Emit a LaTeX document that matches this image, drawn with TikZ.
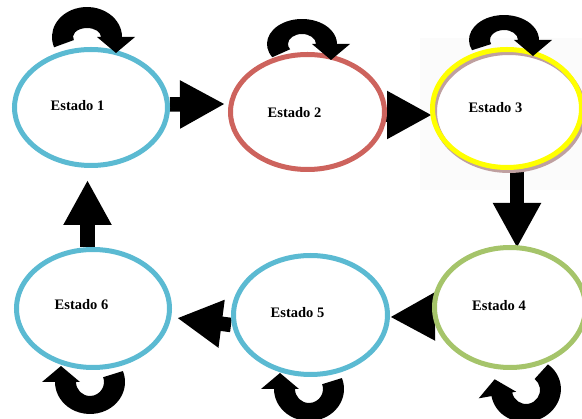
\documentclass[tikz,border=0pt]{standalone}
\usepackage{fontspec}
\setmainfont{Liberation Serif}
\usetikzlibrary{arrows.meta, shapes, positioning, calc}

\definecolor{azul}{HTML}{5BBAD2}
\definecolor{rojo}{HTML}{CD635D}
\definecolor{amarillo}{HTML}{FFFF00}
\definecolor{verde}{HTML}{A5C46A}
\definecolor{sombra}{HTML}{BFA0A0}

\pgfdeclarelayer{background}
\pgfsetlayers{background,main}

\tikzset{
  estado/.style={ellipse, line width=5pt, fill=white, inner sep=0pt},
  etiq/.style={font=\bfseries\fontsize{14.5}{17}\selectfont},
  bigarrow/.style={line width=14.5pt, -{Triangle[length=45pt, width=45pt]}}
}

% curved self arrow: centre x, centre y, turn, foot angle, outer y radius, inner y radius
\newcommand{\selfloop}[6]{%
  \begin{scope}[shift={(#1,#2)}, rotate=#3, yscale=-1]
    \fill (#4:35 and #5) arc[start angle=#4, end angle=0, x radius=35, y radius=#5]
      -- (48,0) -- (29,-16) -- (10,0) -- (14,0)
      arc[start angle=0, end angle=#4, x radius=14, y radius=#6] -- cycle;
  \end{scope}}

\begin{document}
\begin{tikzpicture}[x=1pt, y=-1pt]
  \useasboundingbox (0,0) rectangle (582,419);

  \draw[sombra, line width=5pt, fill=white] (509,111.5) ellipse [x radius=74.5, y radius=59];

  \node[estado, draw=azul, minimum width=153pt, minimum height=116pt] (e1) at (91,107.5) {};
  \node[estado, draw=rojo, minimum width=154pt, minimum height=115pt] (e2) at (307.5,112) {};
  \node[estado, draw=amarillo, fill=none, minimum width=149pt, minimum height=118pt] (e3) at (507,108.5) {};
  \node[estado, draw=verde, minimum width=151pt, minimum height=120pt] (e4) at (510,307.5) {};
  \node[estado, draw=azul, minimum width=154pt, minimum height=119pt] (e5) at (310.5,315) {};
  \node[estado, draw=azul, minimum width=153pt, minimum height=118pt] (e6) at (93,308.5) {};

  \node[etiq] (t1) at (77.5,106) {Estado 1};
  \node[etiq] (t2) at (294.5,112.5) {Estado 2};
  \node[etiq] (t3) at (495.5,107.5) {Estado 3};
  \node[etiq] (t4) at (499,306) {Estado 4};
  \node[etiq] (t5) at (297.5,312.5) {Estado 5};
  \node[etiq] (t6) at (81.5,305) {Estado 6};

  \begin{pgfonlayer}{background}
    \fill[black!1.5] (420,38) rectangle (582,190);
    \draw[bigarrow] ([yshift=3pt]e1.east) -- ([xshift=-3pt,yshift=8pt]e2.west);
    \draw[bigarrow] ([xshift=-6pt,yshift=-3pt]e2.east) -- ([xshift=2pt,yshift=-6.5pt]e3.west);
    \draw[bigarrow] ([xshift=10pt,yshift=2pt]e3.south) -- ([xshift=7pt,yshift=-3pt]e4.north);
    \draw[bigarrow] ([xshift=6pt,yshift=-9pt]e4.west) -- ([yshift=-2pt]e5.east);
    \draw[bigarrow] ([yshift=-10pt]e5.west) -- ([xshift=5pt,yshift=-9.5pt]e6.east);
    \draw[bigarrow] ([xshift=-5.5pt]e6.north) -- ([xshift=-3.5pt,yshift=-12pt]e1.south);
  \end{pgfonlayer}

  \selfloop{87}{37}{0}{200}{30}{9}
  \selfloop{302}{44}{0}{212}{25}{10}
  \selfloop{504}{40}{0}{204}{25}{10}
  \selfloop{526}{390}{190}{222}{32}{14}
  \selfloop{309}{389}{180}{200}{32}{14}
  \selfloop{90}{382}{180}{200}{32}{14}
  %\draw[red] (e1) -- (e2);
\end{tikzpicture}
\end{document}
